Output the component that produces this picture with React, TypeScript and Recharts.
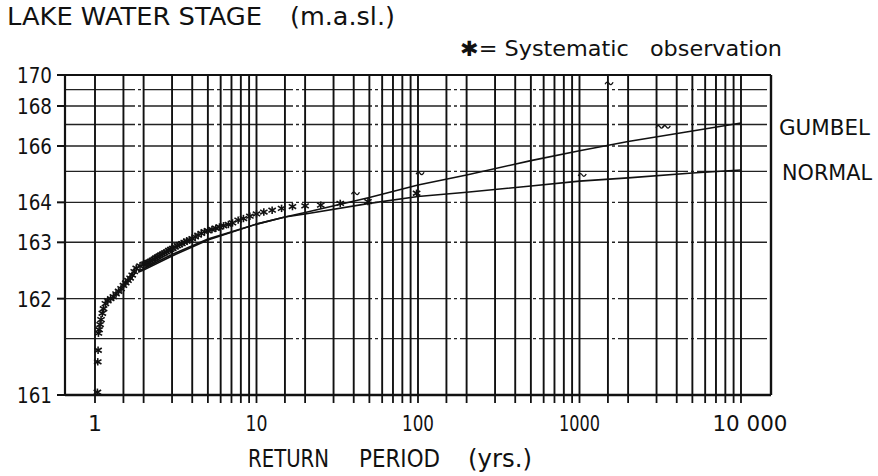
import {
  CartesianGrid,
  ComposedChart,
  Line,
  ReferenceLine,
  Scatter,
  XAxis,
  YAxis,
} from "recharts";

const FONT = '"DejaVu Sans", "Noto Sans", sans-serif';

// stage axis is drawn on log(stage - 160)
const BASE = 160;
const X_MIN = 0.652;
const X_MAX = 15340;

const xGridTicks = [
  1, 1.5, 2, 3, 4, 5, 6, 7, 8, 9,
  10, 15, 20, 30, 40, 50, 60, 70, 80, 90,
  100, 150, 200, 300, 400, 500, 600, 700, 800, 900,
  1000, 1500, 2000, 3000, 4000, 5000, 6000, 7000, 8000, 9000,
  10000,
];
const xLabelTicks = [1, 10, 100, 1000, 10000];
const xTickLabels = ["1", "10", "100", "1000", "10 000"];

const yGridStages = [161, 161.5, 162, 163, 164, 165, 166, 167, 168, 169, 170];
const yLabelStages = [161, 162, 163, 164, 166, 168, 170];

// systematic observations (return period yrs, stage m.a.sl.)
const obsReturn = [
  98, 49, 33, 25, 20, 16.7, 14.3, 12.5, 11.1, 10,
  9.1, 8.3, 7.7, 7.1, 6.7, 6.25, 5.9, 5.6, 5.3, 5,
  4.76, 4.55, 4.35, 4.17, 4, 3.85, 3.7, 3.57, 3.45, 3.33,
  3.23, 3.13, 3.03, 2.94, 2.86, 2.78, 2.7, 2.63, 2.56, 2.5,
  2.44, 2.38, 2.33, 2.27, 2.22, 2.17, 2.13, 2.08, 2.04, 2.0,
  1.9, 1.8, 1.75, 1.7, 1.65, 1.6, 1.55, 1.5, 1.45, 1.4,
  1.35, 1.3, 1.25, 1.2, 1.16, 1.13, 1.11, 1.09, 1.075, 1.06,
  1.05, 1.045, 1.04, 1.035,
];
const obsStage = [
  164.27, 164.02, 163.97, 163.92, 163.9, 163.88, 163.83, 163.78, 163.73, 163.68,
  163.62, 163.56, 163.52, 163.45, 163.41, 163.38, 163.35, 163.32, 163.29, 163.26,
  163.24, 163.2, 163.16, 163.12, 163.08, 163.05, 163.03, 163.0, 162.97, 162.95,
  162.93, 162.9, 162.87, 162.85, 162.83, 162.8, 162.78, 162.76, 162.74, 162.72,
  162.7, 162.68, 162.66, 162.64, 162.62, 162.6, 162.59, 162.58, 162.57, 162.56,
  162.53, 162.49, 162.43, 162.37, 162.32, 162.28, 162.24, 162.2, 162.15, 162.11,
  162.07, 162.03, 162.0, 161.97, 161.93, 161.86, 161.8, 161.72, 161.66, 161.6,
  161.56, 161.38, 161.27, 161.02,
];

// other (historical) marks drawn as ~
const histReturn = [41, 103, 1040, 1525, 3150, 3450];
const histStage = [164.27, 164.93, 164.87, 169.42, 166.89, 166.89];

const gumbelReturn = [1.85, 2, 3, 5, 10, 15, 20, 50, 100, 200, 500, 1000, 2000, 5000, 10000];
const gumbelStage = [162.42, 162.46, 162.72, 163.05, 163.42, 163.6, 163.72, 164.14, 164.53, 164.87, 165.4, 165.8, 166.2, 166.68, 167.08];

const normalReturn = [1.85, 2, 3, 5, 10, 15, 20, 50, 100, 200, 500, 1000, 2000, 5000, 10000];
const normalStage = [162.44, 162.48, 162.75, 163.07, 163.42, 163.6, 163.68, 163.97, 164.17, 164.3, 164.5, 164.66, 164.77, 164.94, 165.05];

const toRows = (ts: number[], hs: number[]) => ts.map((t, i) => ({ t, v: hs[i] - BASE }));

const obsRows = toRows(obsReturn, obsStage);
const histRows = toRows(histReturn, histStage);
const gumbelRows = toRows(gumbelReturn, gumbelStage);
const normalRows = toRows(normalReturn, normalStage);

const Asterisk = (props: any) => {
  const { cx, cy } = props;
  const r = 3.7;
  return (
    <g stroke="#111" strokeWidth={1.6}>
      <line x1={cx} y1={cy - r} x2={cx} y2={cy + r} />
      <line x1={cx - r} y1={cy - r * 0.6} x2={cx + r} y2={cy + r * 0.6} />
      <line x1={cx - r} y1={cy + r * 0.6} x2={cx + r} y2={cy - r * 0.6} />
    </g>
  );
};

const Tilde = (props: any) => {
  const { cx, cy } = props;
  return (
    <path
      d={`M${cx - 4},${cy + 1} Q${cx - 2},${cy - 3} ${cx},${cy} T${cx + 4},${cy - 1}`}
      stroke="#111"
      strokeWidth={1.3}
      fill="none"
    />
  );
};

const xLabelWidths = [7, 22, 32, 41, 75];

const XTick = (props: any) => {
  const { x, y, payload } = props;
  const i = xLabelTicks.indexOf(payload.value);
  if (i < 0) return <g />;
  return (
    <text
      x={x + (i === 4 ? 9 : 0)}
      y={y + 26}
      textAnchor="middle"
      fontSize={22}
      fontFamily={FONT}
      fill="#111"
      textLength={i === 0 ? undefined : xLabelWidths[i]}
      lengthAdjust="spacingAndGlyphs"
    >
      {xTickLabels[i]}
    </text>
  );
};

const YTick = (props: any) => {
  const { x, y, payload } = props;
  const stage = Math.round((payload.value + BASE) * 10) / 10;
  if (!yLabelStages.includes(stage)) return <g />;
  return (
    <g>
      <line x1={x + 5} x2={x + 13} y1={y} y2={y} stroke="#111" strokeWidth={2} />
      <text
        x={x}
        y={y}
        dy={8}
        textAnchor="end"
        fontSize={21}
        fontFamily={FONT}
        fill="#111"
        textLength={35}
        lengthAdjust="spacingAndGlyphs"
      >
        {stage}
      </text>
    </g>
  );
};

export default function App() {
  return (
    <div style={{ position: "absolute", left: 0, top: 0, width: 878, height: 476, background: "#fff" }}>
      <ComposedChart
        width={878}
        height={476}
        margin={{ top: 75, right: 107, bottom: 41, left: 15 }}
      >
        <CartesianGrid vertical={false} stroke="#222" strokeWidth={1.4} strokeDasharray="70 3 3 3" />
        <CartesianGrid horizontal={false} stroke="#111" strokeWidth={1.9} />
        <XAxis
          dataKey="t"
          type="number"
          scale="log"
          domain={[X_MIN, X_MAX]}
          allowDataOverflow
          ticks={xGridTicks}
          interval={0}
          tick={XTick}
          tickSize={8}
          tickLine={{ stroke: "#111", strokeWidth: 1.8 }}
          axisLine={{ stroke: "#111", strokeWidth: 2.5 }}
          height={40}
        />
        <YAxis
          dataKey="v"
          type="number"
          scale="log"
          domain={[1, 10]}
          allowDataOverflow
          ticks={yGridStages.map((s) => s - BASE)}
          interval={0}
          tick={YTick}
          tickLine={false}
          tickSize={8}
          tickMargin={5}
          axisLine={{ stroke: "#111", strokeWidth: 2.2 }}
          width={50}
        />
        <ReferenceLine y={10} stroke="#111" strokeWidth={2.2} />
        <ReferenceLine x={X_MAX} stroke="#111" strokeWidth={2.4} />
        <Line data={gumbelRows} dataKey="v" type="linear" stroke="#111" strokeWidth={1.6} dot={false} isAnimationActive={false} />
        <Line data={normalRows} dataKey="v" type="linear" stroke="#111" strokeWidth={1.6} dot={false} isAnimationActive={false} />
        <Scatter data={obsRows} dataKey="v" shape={Asterisk} isAnimationActive={false} />
        <Scatter data={histRows} dataKey="v" shape={Tilde} isAnimationActive={false} />
      </ComposedChart>
      <svg
        width={878}
        height={476}
        style={{ position: "absolute", left: 0, top: 0, pointerEvents: "none" }}
        fontFamily={FONT}
        fill="#111"
      >
        <text x={7} y={25} fontSize={25} textLength={255} lengthAdjust="spacingAndGlyphs">LAKE WATER STAGE</text>
        <text x={290} y={25} fontSize={24} textLength={105} lengthAdjust="spacingAndGlyphs">(m.a.sl.)</text>
        <text x={460} y={56} fontSize={21} textLength={322} lengthAdjust="spacingAndGlyphs" style={{ whiteSpace: "pre" }}>
          {"✱= Systematic   observation"}
        </text>
        <text x={779} y={135} fontSize={22} textLength={91} lengthAdjust="spacingAndGlyphs">GUMBEL</text>
        <text x={782} y={180} fontSize={22} textLength={90} lengthAdjust="spacingAndGlyphs">NORMAL</text>
        <text x={248} y={467} fontSize={25} textLength={81} lengthAdjust="spacingAndGlyphs">RETURN</text>
        <text x={359} y={467} fontSize={25} textLength={81} lengthAdjust="spacingAndGlyphs">PERIOD</text>
        <text x={468} y={467} fontSize={25} textLength={64} lengthAdjust="spacingAndGlyphs">(yrs.)</text>
      </svg>
    </div>
  );
}
